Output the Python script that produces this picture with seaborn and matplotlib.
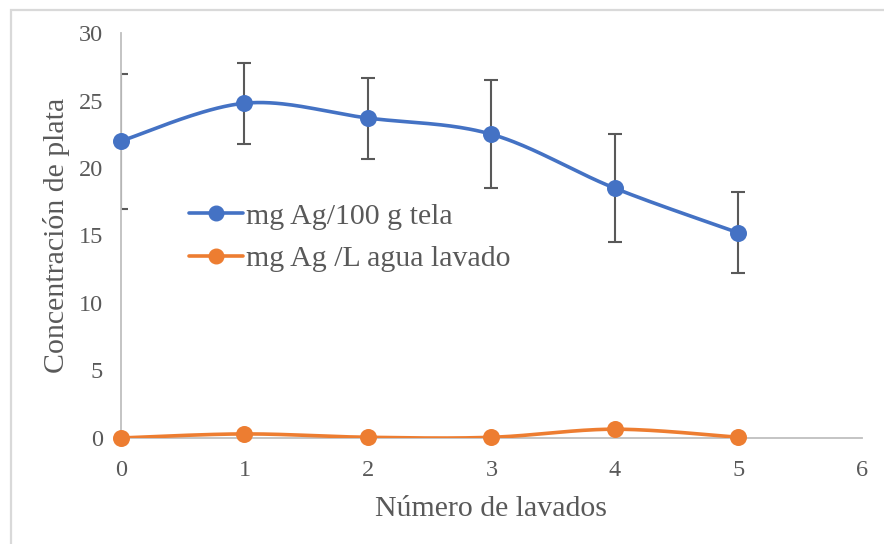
import numpy as np
import pandas as pd
import matplotlib
matplotlib.use("Agg")
import matplotlib.pyplot as plt
import seaborn as sns
from matplotlib.lines import Line2D
from matplotlib.patches import Rectangle

# ---- data ----
lavados = [0, 1, 2, 3, 4, 5]
tela = [22.0, 24.8, 23.7, 22.5, 18.5, 15.2]
tela_err = [5.0, 3.0, 3.0, 4.0, 4.0, 3.0]
agua = [0.0, 0.3, 0.05, 0.05, 0.65, 0.05]
series_names = ["mg Ag/100 g tela", "mg Ag /L agua lavado"]
x_ticks = [0, 1, 2, 3, 4, 5, 6]
y_ticks = [0, 5, 10, 15, 20, 25, 30]

BLUE = "#4472C4"
ORANGE = "#ED7D31"
GRAY = "#595959"


def smooth(xs, ys, n=40):
    xs = np.asarray(xs, float)
    ys = np.asarray(ys, float)
    P = np.column_stack([xs, ys])
    P = np.vstack([P[0], P, P[-1]])
    out = []
    t = np.linspace(0, 1, n)
    for i in range(1, len(P) - 2):
        p0, p1, p2, p3 = P[i - 1], P[i], P[i + 1], P[i + 2]
        c1 = p1 + (p2 - p0) / 6.0
        c2 = p2 - (p3 - p1) / 6.0
        seg = ((1 - t) ** 3)[:, None] * p1 + (3 * (1 - t) ** 2 * t)[:, None] * c1 \
            + (3 * (1 - t) * t ** 2)[:, None] * c2 + (t ** 3)[:, None] * p2
        out.append(seg if i == 1 else seg[1:])
    out = np.vstack(out)
    return out[:, 0], out[:, 1]


sns.set_theme(style="white")
plt.rcParams["font.family"] = ["Liberation Serif", "DejaVu Serif"]

fig = plt.figure(figsize=(8.84, 5.44), dpi=100)
ax = fig.add_axes([0.1369, 0.1949, 0.838, 0.7444])

# frame around chart area
fig.patches.append(Rectangle((11 / 884, -0.05), 1.1, 1 - 10 / 544 + 0.05,
                             transform=fig.transFigure, fill=False,
                             edgecolor="#d9d9d9", linewidth=1.6))

ax.errorbar(lavados, tela, yerr=tela_err, fmt="none", ecolor=GRAY,
            elinewidth=1.5, capsize=5, capthick=1.5, zorder=2)

for ys, col in [(tela, BLUE), (agua, ORANGE)]:
    sx, sy = smooth(lavados, ys)
    df = pd.DataFrame({"x": sx, "y": sy})
    sns.lineplot(data=df, x="x", y="y", ax=ax, color=col, linewidth=2.6,
                 sort=False, estimator=None, zorder=3)
    dfp = pd.DataFrame({"x": lavados, "y": ys})
    sns.scatterplot(data=dfp, x="x", y="y", ax=ax, color=col, s=150,
                    edgecolor=col, linewidth=0, zorder=4, clip_on=False)

ax.set_xlim(0, 6)
ax.set_ylim(0, 30)
ax.set_xticks(x_ticks)
ax.set_yticks(y_ticks)
ax.tick_params(axis="both", length=0, labelsize=17.5, labelcolor=GRAY)
ax.tick_params(axis="x", pad=16)
ax.tick_params(axis="y", pad=13)
for s in ["top", "right"]:
    ax.spines[s].set_visible(False)
for s in ["left", "bottom"]:
    ax.spines[s].set_color("#bfbfbf")
    ax.spines[s].set_linewidth(1.3)
ax.grid(False)

ax.set_xlabel("Número de lavados", fontsize=21.5, color=GRAY, labelpad=11)
ax.set_ylabel("Concentración de plata", fontsize=21.5, color=GRAY, labelpad=6)

handles = [Line2D([0], [0], color=BLUE, lw=2.6, marker="o", markersize=10.5),
           Line2D([0], [0], color=ORANGE, lw=2.6, marker="o", markersize=10.5)]
leg = ax.legend(handles, series_names, loc="upper left",
                bbox_to_anchor=(0.0756, 0.61), frameon=False, fontsize=21.5,
                handlelength=1.8, handletextpad=0.1, labelspacing=0.52,
                borderaxespad=0)
for t in leg.get_texts():
    t.set_color(GRAY)

fig.savefig("out.png", dpi=100)
